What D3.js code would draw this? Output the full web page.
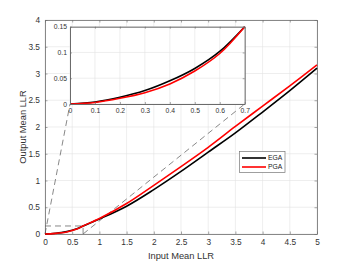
<!DOCTYPE html>
<html lang="en">
<head>
<meta charset="UTF-8">
<title>EGA vs PGA</title>
<script src="https://d3js.org/d3.v7.min.js"></script>
<style>
  body { margin: 0; background: #fff; }
  svg { font-family: "Liberation Sans", Arial, sans-serif; }
</style>
</head>
<body>
<div id="chart"></div>
<script>
// input mean LLR
const inputs = [0, 0.1, 0.2, 0.3, 0.4, 0.5, 0.6, 0.7, 1.0, 1.5, 2.0, 2.5, 3.0, 3.5, 4.0, 4.5, 5.0];
// output mean LLR
const ega = [0, 0.004, 0.013, 0.026, 0.045, 0.069, 0.102, 0.150, 0.28, 0.52, 0.83, 1.17, 1.53, 1.89, 2.28, 2.68, 3.10];
const pga = [0, 0.003, 0.011, 0.022, 0.039, 0.064, 0.098, 0.150, 0.29, 0.57, 0.91, 1.26, 1.62, 2.01, 2.39, 2.77, 3.16];
const seriesNames = ["EGA", "PGA"];
const seriesColors = ["#000000", "#ff0000"];
const xTicks = d3.range(0, 5.01, 0.5);
const yTicks = d3.range(0, 4.01, 0.5);
const insetXTicks = [0, 0.1, 0.2, 0.3, 0.4, 0.5, 0.6, 0.7];
const insetYTicks = [0, 0.05, 0.1, 0.15];

const width = 350, height = 263;
const svg = d3.select("#chart").append("svg")
  .attr("width", width).attr("height", height);

const x = d3.scaleLinear().domain([0, 5]).range([45, 317]);
const y = d3.scaleLinear().domain([0, 4]).range([234, 20]);

const series = [ega, pga].map((vals, i) => ({
  name: seriesNames[i], color: seriesColors[i],
  pts: inputs.map((v, j) => [v, vals[j]])
}));

function fmt(d) { return d3.format("~g")(+d.toFixed(3)); }

// ---- main axes ----
const main = svg.append("g");
main.append("rect").attr("x", 45).attr("y", 20).attr("width", 272).attr("height", 214).attr("fill", "#fff");
main.selectAll(".gx").data(xTicks).join("line")
  .attr("x1", d => x(d)).attr("x2", d => x(d)).attr("y1", 20).attr("y2", 234)
  .attr("stroke", "#e3e3e3").attr("stroke-width", 0.6);
main.selectAll(".gy").data(yTicks).join("line")
  .attr("x1", 45).attr("x2", 317).attr("y1", d => y(d)).attr("y2", d => y(d))
  .attr("stroke", "#e3e3e3").attr("stroke-width", 0.6);

main.append("g").attr("transform", "translate(0,234)")
  .call(d3.axisBottom(x).tickValues(xTicks).tickFormat(fmt).tickSizeInner(-2.5).tickSizeOuter(0).tickPadding(5));
main.append("g").attr("transform", "translate(45,0)")
  .call(d3.axisLeft(y).tickValues(yTicks).tickFormat(fmt).tickSizeInner(-2.5).tickSizeOuter(0).tickPadding(5));
// top & right axes
main.append("g").attr("transform", "translate(0,20)")
  .call(d3.axisTop(x).tickValues(xTicks).tickFormat("").tickSizeInner(-2.5).tickSizeOuter(0));
main.append("g").attr("transform", "translate(317,0)")
  .call(d3.axisRight(y).tickValues(yTicks).tickFormat("").tickSizeInner(-2.5).tickSizeOuter(0));
main.selectAll(".domain").attr("stroke", "#6b6b6b").attr("stroke-width", 0.8);
main.selectAll(".tick line").attr("stroke", "#6b6b6b").attr("stroke-width", 0.6);
main.selectAll(".tick text").attr("fill", "#333").style("font-size", "8.3px");

svg.append("text").attr("x", 181).attr("y", 259).attr("text-anchor", "middle")
  .attr("fill", "#333").style("font-size", "9.3px").text("Input Mean LLR");
svg.append("text").attr("transform", "translate(26,127) rotate(-90)").attr("text-anchor", "middle")
  .attr("fill", "#333").style("font-size", "9.3px").text("Output Mean LLR");

// zoom rectangle + connector lines
const zx = 0.7, zy = 0.15;
const ix0 = 70, ix1 = 244.7, iy0 = 26.7, iy1 = 104;
const dash = g => g.attr("fill", "none").attr("stroke", "#555").attr("stroke-width", 0.7).attr("stroke-dasharray", "6,4");
main.append("path")
  .attr("d", `M${x(0)},${y(zy)}H${x(zx)}V${y(0)}`).call(dash);
main.append("line").attr("x1", x(0)).attr("y1", y(0)).attr("x2", ix0).attr("y2", iy1).call(dash);
main.append("line").attr("x1", x(zx)).attr("y1", y(0)).attr("x2", ix1).attr("y2", iy1).call(dash);

const line = d3.line().x(d => x(d[0])).y(d => y(d[1])).curve(d3.curveCatmullRom.alpha(0.5));
main.selectAll(".curve").data(series).join("path")
  .attr("d", d => line(d.pts)).attr("fill", "none")
  .attr("stroke", d => d.color).attr("stroke-width", 1.6);

// legend
const lg = svg.append("g");
lg.append("rect").attr("x", 239.5).attr("y", 151.5).attr("width", 45.5).attr("height", 21)
  .attr("fill", "#fff").attr("stroke", "#777").attr("stroke-width", 0.7);
series.forEach((s, i) => {
  const ly = 158 + i * 9;
  lg.append("line").attr("x1", 242).attr("x2", 266).attr("y1", ly).attr("y2", ly)
    .attr("stroke", s.color).attr("stroke-width", 1.6);
  lg.append("text").attr("x", 268).attr("y", ly + 2.3).attr("fill", "#222")
    .style("font-size", "6.8px").text(s.name);
});

// ---- inset ----
const ix = d3.scaleLinear().domain([0, 0.7]).range([ix0, ix1]);
const iy = d3.scaleLinear().domain([0, 0.15]).range([iy1, iy0]);
const inset = svg.append("g");
inset.append("rect").attr("x", ix0).attr("y", iy0).attr("width", ix1 - ix0).attr("height", iy1 - iy0).attr("fill", "#fff");
inset.selectAll(".gx").data(insetXTicks).join("line")
  .attr("x1", d => ix(d)).attr("x2", d => ix(d)).attr("y1", iy0).attr("y2", iy1)
  .attr("stroke", "#e3e3e3").attr("stroke-width", 0.6);
inset.selectAll(".gy").data(insetYTicks).join("line")
  .attr("x1", ix0).attr("x2", ix1).attr("y1", d => iy(d)).attr("y2", d => iy(d))
  .attr("stroke", "#e3e3e3").attr("stroke-width", 0.6);
const insetPts = series.map(s => ({ color: s.color, pts: s.pts.filter(p => p[0] <= 0.7) }));
const iline = d3.line().x(d => ix(d[0])).y(d => iy(d[1])).curve(d3.curveCatmullRom.alpha(0.5));
inset.selectAll(".curve").data(insetPts).join("path")
  .attr("d", d => iline(d.pts)).attr("fill", "none")
  .attr("stroke", d => d.color).attr("stroke-width", 1.6);
inset.append("g").attr("transform", `translate(0,${iy1})`)
  .call(d3.axisBottom(ix).tickValues(insetXTicks).tickFormat(fmt).tickSizeInner(-2).tickSizeOuter(0).tickPadding(4));
inset.append("g").attr("transform", `translate(${ix0},0)`)
  .call(d3.axisLeft(iy).tickValues(insetYTicks).tickFormat(fmt).tickSizeInner(-2).tickSizeOuter(0).tickPadding(3));
inset.append("g").attr("transform", `translate(0,${iy0})`)
  .call(d3.axisTop(ix).tickValues(insetXTicks).tickFormat("").tickSizeInner(-2).tickSizeOuter(0));
inset.append("g").attr("transform", `translate(${ix1},0)`)
  .call(d3.axisRight(iy).tickValues(insetYTicks).tickFormat("").tickSizeInner(-2).tickSizeOuter(0));
inset.selectAll(".domain").attr("stroke", "#6b6b6b").attr("stroke-width", 1);
inset.selectAll(".tick line").attr("stroke", "#6b6b6b").attr("stroke-width", 0.6);
inset.selectAll(".tick text").attr("fill", "#333").style("font-size", "6.8px");
</script>
</body>
</html>
